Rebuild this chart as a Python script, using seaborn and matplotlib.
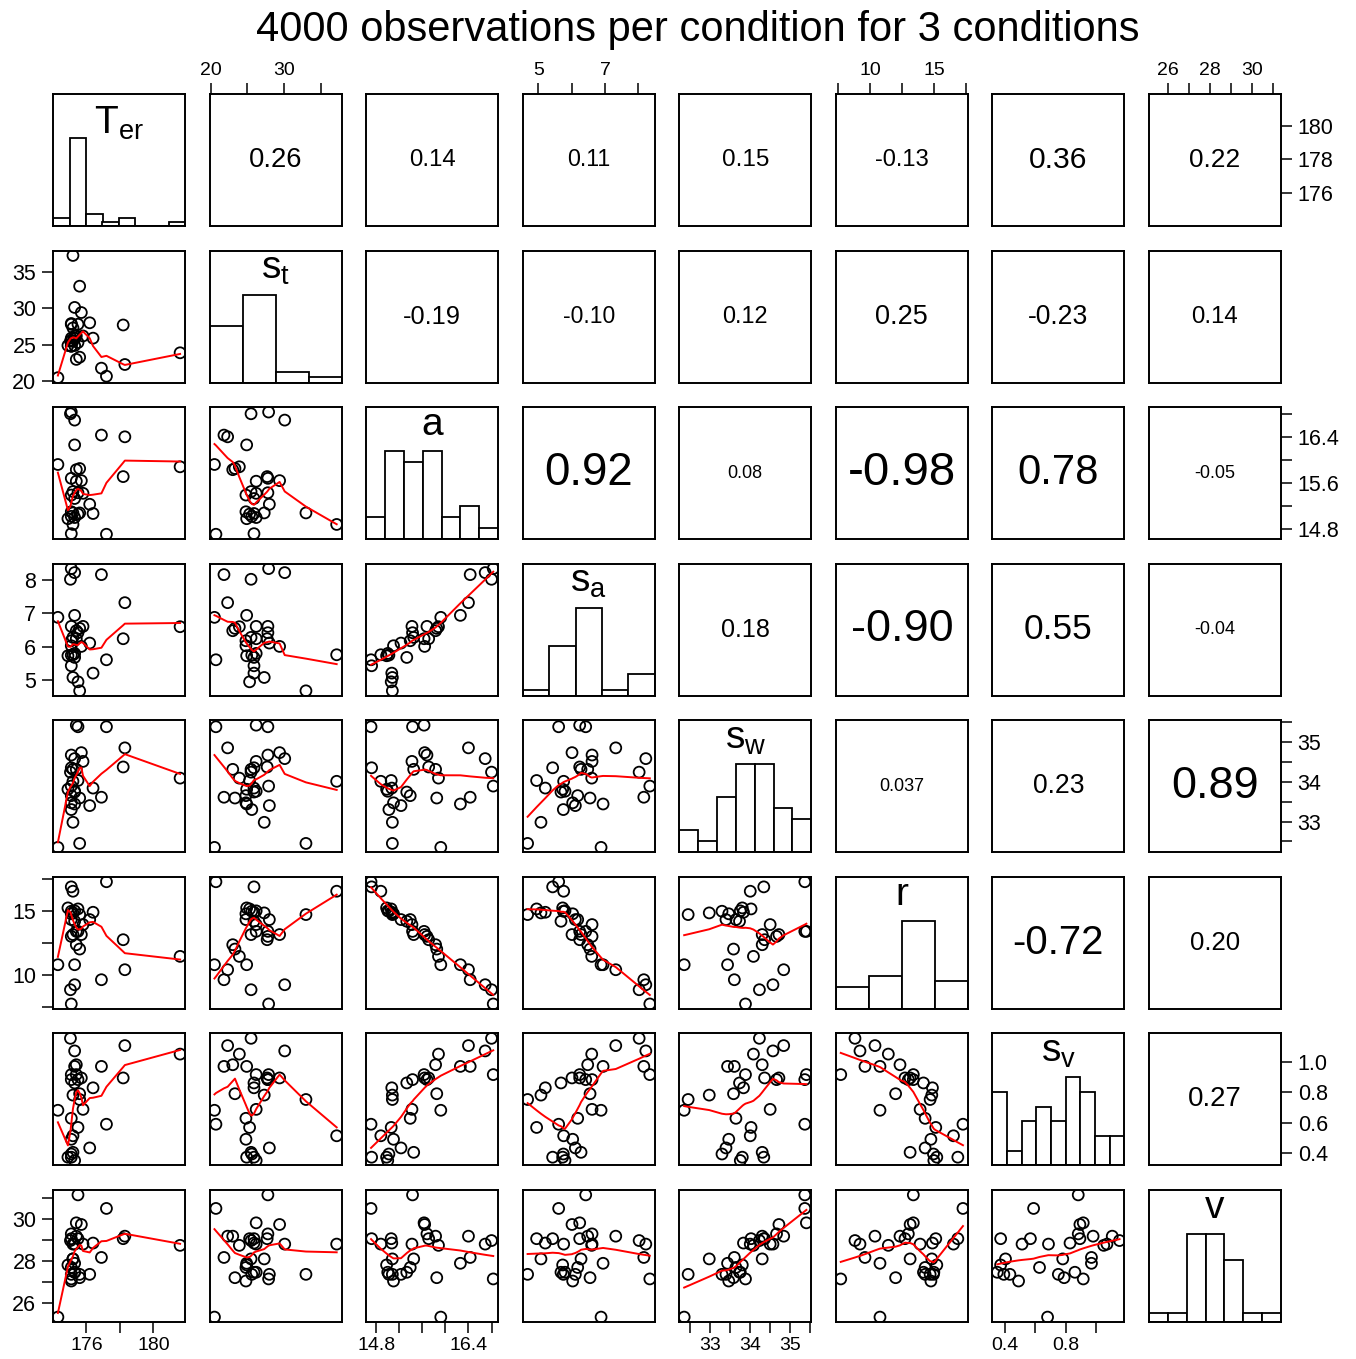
import numpy as np
import matplotlib
matplotlib.use('Agg')
import matplotlib.pyplot as plt
import seaborn as sns

plt.rcParams['font.family'] = ['Liberation Sans', 'DejaVu Sans']
plt.rcParams['mathtext.fontset'] = 'custom'
plt.rcParams['mathtext.rm'] = 'Liberation Sans'

title = '4000 observations per condition for 3 conditions'

names = ['Ter', 'st', 'a', 'sa', 'sw', 'r', 'sv', 'v']
diag_labels = [r'$\mathregular{T_{er}}$', r'$\mathregular{s_t}$', 'a', r'$\mathregular{s_a}$',
               r'$\mathregular{s_w}$', 'r', r'$\mathregular{s_v}$', 'v']

# 31 fitted parameter sets
Ter = [177.2, 175.1, 175.2, 174.9, 175.3, 175.1, 175.5, 176.4, 175.2, 175.6, 175.1, 176.2,
       175.3, 175.1, 175.8, 175.5, 175.2, 175.4, 175.7, 175.1, 178.2, 175.4, 175.6,
       181.6, 174.3, 175.3, 178.3, 176.9, 175.3, 175.05, 175.1]
st = [20.7, 25.9, 37.2, 24.9, 26.2, 25.6, 25.3, 25.9, 27.3, 33.0, 24.8, 28.0,
      25.9, 24.8, 26.2, 27.8, 25.5, 26.2, 29.4, 27.8, 27.7, 23.0, 23.3,
      23.9, 20.5, 24.9, 22.3, 21.8, 30.1, 25.5, 27.9]
a = [14.71, 14.72, 14.88, 14.98, 15.00, 15.02, 15.06, 15.07, 15.08, 15.08, 15.10, 15.23,
     15.33, 15.39, 15.42, 15.43, 15.45, 15.63, 15.64, 15.68, 15.71, 15.83, 15.85,
     15.88, 15.92, 16.26, 16.40, 16.43, 16.69, 16.80, 16.83]
sa = [5.61, 5.43, 5.76, 5.73, 5.80, 5.75, 4.95, 5.21, 5.08, 4.68, 6.03, 6.11,
      5.68, 6.18, 6.61, 6.42, 6.28, 6.24, 6.01, 6.61, 6.24, 6.48, 6.55,
      6.60, 6.88, 6.94, 7.32, 8.16, 8.22, 8.02, 8.34]
sw = [35.38, 34.35, 34.01, 33.81, 33.76, 33.30, 34.03, 33.84, 32.98, 32.45, 33.47, 33.40,
      33.74, 33.65, 34.51, 35.38, 34.31, 35.42, 34.73, 34.67, 34.37, 34.31, 33.59,
      34.09, 32.35, 33.44, 34.85, 33.61, 34.58, 34.24, 33.89]
r = [17.25, 16.85, 16.51, 15.21, 14.98, 14.95, 15.13, 14.87, 14.82, 14.69, 14.75, 14.30,
     14.17, 14.30, 13.91, 13.38, 13.13, 13.38, 13.13, 12.99, 12.73, 12.34, 12.00,
     11.43, 10.78, 10.78, 10.39, 9.61, 9.22, 8.83, 7.72]
sv = [0.589, 0.372, 0.513, 0.372, 0.350, 0.393, 0.568, 0.829, 0.781, 0.752, 0.49, 0.433,
      0.861, 0.628, 0.687, 0.883, 0.404, 0.916, 0.894, 0.883, 0.894, 0.981, 0.790,
      1.051, 0.681, 0.970, 1.107, 0.970, 1.072, 1.155, 0.916]
v = [30.52, 29.07, 28.81, 27.81, 27.46, 27.36, 29.07, 28.86, 28.10, 27.36, 27.04, 27.36,
     27.46, 27.69, 28.81, 31.17, 28.10, 29.83, 29.75, 29.30, 29.07, 29.19, 27.20,
     28.75, 25.31, 27.89, 29.19, 28.17, 28.81, 28.98, 27.14]
data = [Ter, st, a, sa, sw, r, sv, v]

# correlations printed in the upper panels (row by row)
cor_labels = [
    ['0.26', '0.14', '0.11', '0.15', '-0.13', '0.36', '0.22'],
    ['-0.19', '-0.10', '0.12', '0.25', '-0.23', '0.14'],
    ['0.92', '0.08', '-0.98', '0.78', '-0.05'],
    ['0.18', '-0.90', '0.55', '-0.04'],
    ['0.037', '0.23', '0.89'],
    ['-0.72', '0.20'],
    ['0.27'],
]

# histogram bar counts as drawn on the diagonal (equal bins across each panel)
hist_counts = [
    [2, 22, 3, 1, 2, 0, 0, 1],
    [11, 17, 2, 1],
    [2, 8, 7, 8, 2, 3, 1],
    [1, 9, 16, 1, 4],
    [2, 1, 5, 8, 8, 4, 3],
    [4, 6, 16, 5],
    [5, 1, 3, 4, 3, 6, 5, 2, 2],
    [1, 1, 10, 10, 7, 1, 1],
]

# axis ticks: positions, labels on horizontal axes, labels on vertical axes
tick_pos = [[176, 178, 180], [20, 25, 30, 35], [14.8, 15.2, 15.6, 16.0, 16.4, 16.8],
            [5, 6, 7, 8], [32.5, 33, 33.5, 34, 34.5, 35, 35.5], [7.5, 10, 12.5, 15, 17.5],
            [0.4, 0.6, 0.8, 1.0], [26, 27, 28, 29, 30, 31]]
xtick_lab = [['176', '', '180'], ['20', '', '30', ''], ['14.8', '', '', '', '16.4', ''],
             ['5', '', '7', ''], ['', '33', '', '34', '', '35', ''], ['', '10', '', '15', ''],
             ['0.4', '', '0.8', ''], ['26', '', '28', '', '30', '']]
ytick_lab = [['176', '178', '180'], ['20', '25', '30', '35'], ['14.8', '', '15.6', '', '16.4', ''],
             ['5', '6', '7', '8'], ['', '33', '', '34', '', '35', ''], ['', '10', '', '15', ''],
             ['0.4', '0.6', '0.8', '1.0'], ['26', '', '28', '', '30', '']]


def lowess(x, y, f=2 / 3, iters=3):
    x = np.asarray(x, float)
    y = np.asarray(y, float)
    o = np.argsort(x, kind='mergesort')
    x, y = x[o], y[o]
    n = len(x)
    k = int(np.ceil(f * n))
    rob = np.ones(n)
    fit = np.zeros(n)
    for it in range(iters + 1):
        for i in range(n):
            d = np.abs(x - x[i])
            h = max(np.sort(d)[k - 1], 1e-12)
            u = np.clip(d / h, 0, 1)
            w = (1 - u ** 3) ** 3 * rob
            near = d < 1e-3 * h
            w[near] = rob[near]
            sw_ = w.sum()
            xm = (w * x).sum() / sw_
            ym = (w * y).sum() / sw_
            sxx = (w * (x - xm) ** 2).sum()
            b = (w * (x - xm) * (y - ym)).sum() / sxx if sxx > 1e-12 else 0.0
            fit[i] = ym + b * (x[i] - xm)
        res = y - fit
        s = np.median(np.abs(res))
        if s == 0:
            break
        u = np.clip(res / (6 * s), -1, 1)
        rob = (1 - u ** 2) ** 2
    return x, fit


def lims(vals):
    lo, hi = min(vals), max(vals)
    pad = 0.04 * (hi - lo)
    return lo - pad, hi + pad


W, H = 1356, 1359
fig = plt.figure(figsize=(W / 100, H / 100), dpi=100)
left0, top0, step, size = 53, 94, 156.57, 132

xtick_kw = dict(direction='out', length=8, width=1.1, labelsize=14, pad=3)
ytick_kw = dict(direction='out', length=8, width=1.1, labelsize=15.5, pad=4)

for i in range(8):
    for j in range(8):
        l = left0 + j * step
        t = top0 + i * step
        ax = fig.add_axes([l / W, 1 - (t + size) / H, size / W, size / H])
        for sp in ax.spines.values():
            sp.set_linewidth(1.4)

        if i > j:
            sns.scatterplot(x=data[j], y=data[i], ax=ax, s=62, color='black', linewidth=1.3,
                            legend=False)
            ax.collections[-1].set_facecolor('none')
            ax.collections[-1].set_edgecolor('black')
            lx, ly = lowess(data[j], data[i])
            sns.lineplot(x=lx, y=ly, ax=ax, color='red', linewidth=1.4, sort=False,
                         estimator=None)
            ax.set_xlim(lims(data[j]))
            ax.set_ylim(lims(data[i]))
        elif i < j:
            ax.set_xlim(lims(data[j]))
            ax.set_ylim(lims(data[i]))
            txt = cor_labels[i][j - i - 1]
            rv = abs(float(txt))
            fs = 14.5 + 20 * rv if rv >= 0.1 else 13
            ax.text(0.5, 0.5, txt, transform=ax.transAxes, ha='center', va='center',
                    fontsize=fs)
        else:
            lo, hi = lims(data[i])
            counts = np.asarray(hist_counts[i])
            edges = np.linspace(lo, hi, len(counts) + 1)
            mids = (edges[:-1] + edges[1:]) / 2
            sns.histplot(x=np.repeat(mids, counts), bins=edges, ax=ax,
                         color='white', edgecolor='black', linewidth=1.3, alpha=1)
            ax.set_xlim(lo, hi)
            ax.set_ylim(0, 1.5 * counts.max())
            base = 40 if i == 0 else 28
            ax.text(0.5, 1 - base / size, diag_labels[i], transform=ax.transAxes,
                    ha='center', va='baseline', fontsize=28)

        ax.set_xlabel('')
        ax.set_ylabel('')
        ax.set_xticks([])
        ax.set_yticks([])

        # outer axes, alternating sides as in pairs()
        if i == 0 and j % 2 == 1:
            ax.set_xticks(tick_pos[j])
            ax.set_xticklabels(xtick_lab[j])
            ax.xaxis.set_ticks_position('top')
            ax.tick_params(axis='x', **xtick_kw)
        if i == 7 and j % 2 == 0:
            ax.set_xticks(tick_pos[j])
            ax.set_xticklabels(xtick_lab[j])
            ax.tick_params(axis='x', **xtick_kw)
        if j == 0 and i % 2 == 1:
            ax.set_yticks(tick_pos[i])
            ax.set_yticklabels(ytick_lab[i])
            ax.tick_params(axis='y', **ytick_kw)
        if j == 7 and i % 2 == 0:
            ax.set_yticks(tick_pos[i])
            ax.set_yticklabels(ytick_lab[i])
            ax.yaxis.set_ticks_position('right')
            ax.tick_params(axis='y', **ytick_kw)

fig.text(698 / W, 1 - 30 / H, title, ha='center', va='center', fontsize=30)
fig.savefig('out.png', dpi=100)
